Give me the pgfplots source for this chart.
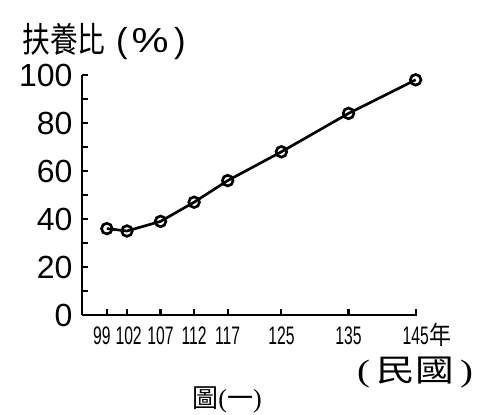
\documentclass[border=0pt]{standalone}
\usepackage{pgfplots}
\pgfplotsset{compat=1.18}
\usepackage{fontspec}
\setmainfont{Liberation Sans}
\newfontfamily\cjk{Noto Sans CJK TC}
\newfontfamily\lserif{Liberation Serif}
\begin{document}
\begin{tikzpicture}[x=0.75pt,y=0.75pt]
\path[use as bounding box] (0,0) rectangle (495,414);
\begin{axis}[
  at={(61.5pt,74.25pt)}, anchor=south west,
  scale only axis, width=251.25pt, height=180pt,
  xmin=95.3, xmax=145.2, ymin=0, ymax=100,
  axis lines=left,
  axis line style={-, line width=2pt},
  tick align=inside,
  major tick length=4.5pt, minor tick length=4.5pt,
  tick style={line width=1.6pt, black},
  xtick={99,102,107,112,117,125,135,145},
  xticklabels={\makebox[0pt]{\hspace{-12pt}99},\makebox[0pt]{\hspace{4pt}102},107,112,117,125,135,145\rlap{\smash{\hspace{1pt}\scalebox{1.4}[1]{\cjk\fontsize{19}{19}\selectfont 年}}}},
  ytick={0,20,...,100},
  minor ytick={10,30,...,90},
  /pgf/number format/assume math mode=true,
  yticklabel style={font=\fontsize{24}{24}\selectfont, anchor=east, inner sep=0pt, xshift=-7pt},
  xticklabel style={font=\fontsize{19}{19}\selectfont, anchor=north, inner sep=0pt, yshift=-9pt, xscale=0.62},
  clip=false,
]
\addplot[black, line width=2pt, mark=o, mark size=4pt, mark options={fill=white, line width=2pt}]
  coordinates {(99,36) (102,35) (107,39) (112,47) (117,56) (125,68) (135,84) (145,98)};
\end{axis}
\node[anchor=base west, inner sep=0pt] at (22,361)
  {\fontsize{26}{26}\selectfont\scalebox{0.8}[1]{\cjk 扶養比}\hspace{8pt}(\hspace{3pt}\scalebox{1.2}[1]{\%}\hspace{4pt})};
\node[inner sep=0pt] at (415,41)
  {\scalebox{1}[0.8]{\fontsize{29}{29}\selectfont{\lserif(}\,{\cjk 民國}\,{\lserif)}}};
\node[inner sep=0pt] at (227,14)
  {\fontsize{19.5}{19.5}\selectfont{\cjk 圖}{\lserif(}{\cjk 一}{\lserif)}};
\end{tikzpicture}
\end{document}
